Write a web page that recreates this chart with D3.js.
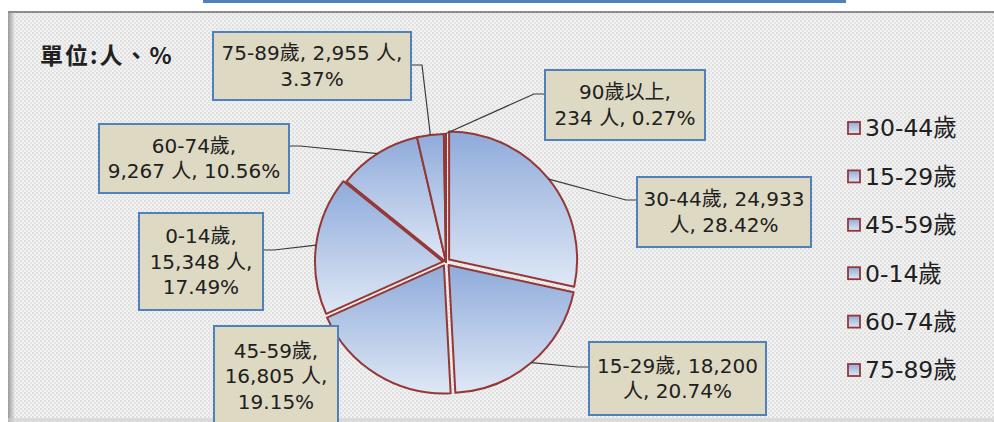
<!DOCTYPE html>
<html>
<head>
<meta charset="utf-8">
<script src="https://cdn.jsdelivr.net/npm/d3@7.9.0/dist/d3.min.js"></script>
<style>
  html, body { margin: 0; padding: 0; background: #fff; }
  svg { display: block; }
  text { fill: #202020; }
</style>
</head>
<body>
<svg id="chart" width="994" height="422"></svg>
<script>
// data
const categories = ['30-44歲', '15-29歲', '45-59歲', '0-14歲', '60-74歲', '75-89歲', '90歲以上'];
const counts     = [24933, 18200, 16805, 15348, 9267, 2955, 234];
const legendItems = ['30-44歲', '15-29歲', '45-59歲', '0-14歲', '60-74歲', '75-89歲'];
const unitLabel  = '單位:人、%';

const W = 994, H = 422;
const svg = d3.select('#chart');
const defs = svg.append('defs');

// dotted texture of the plot area
const pat = defs.append('pattern')
  .attr('id', 'dots').attr('width', 4).attr('height', 4)
  .attr('patternUnits', 'userSpaceOnUse');
pat.append('rect').attr('width', 4).attr('height', 4).attr('fill', '#f2f2f2');
pat.append('circle').attr('cx', 1).attr('cy', 1).attr('r', 0.9).attr('fill', '#d6d6d6');
pat.append('circle').attr('cx', 3).attr('cy', 3).attr('r', 0.9).attr('fill', '#dedede');

const shade = defs.append('linearGradient').attr('id', 'leftShade')
  .attr('x1', 0).attr('x2', 1).attr('y1', 0).attr('y2', 0);
shade.append('stop').attr('offset', 0).attr('stop-color', '#9a9a9a');
shade.append('stop').attr('offset', 1).attr('stop-color', '#9a9a9a').attr('stop-opacity', 0);

const blue = defs.append('linearGradient').attr('id', 'sliceFill')
  .attr('x1', 0).attr('x2', 0).attr('y1', 0).attr('y2', 1);
blue.append('stop').attr('offset', 0).attr('stop-color', '#8fabdb');
blue.append('stop').attr('offset', 1).attr('stop-color', '#dfe8f5');

// frame
svg.append('rect').attr('x', 203).attr('y', 0).attr('width', 643).attr('height', 3)
  .attr('fill', '#4f81bd');
svg.append('rect').attr('x', 8).attr('y', 11).attr('width', W - 8).attr('height', H - 11)
  .attr('fill', 'url(#dots)');
svg.append('rect').attr('x', 8).attr('y', 11).attr('width', 7).attr('height', H - 11)
  .attr('fill', 'url(#leftShade)');
svg.append('rect').attr('x', 8).attr('y', 11).attr('width', W - 8).attr('height', 2)
  .attr('fill', '#8c8c8c');
svg.append('rect').attr('x', 8).attr('y', H - 4).attr('width', W - 8).attr('height', 4)
  .attr('fill', '#d0d0d0').attr('opacity', 0.6);

// unit
svg.append('text')
  .attr('x', 40).attr('y', 64)
  .attr('font-family', '"Noto Sans CJK TC", sans-serif')
  .attr('font-weight', 'bold').attr('font-size', 23)
  .attr('letter-spacing', 2)
  .text(unitLabel);

// pie
const cx = 446, cy = 262, R = 128;
const total = d3.sum(counts);
const rows = categories.map((c, i) => ({ cat: c, value: counts[i], pct: counts[i] / total * 100 }));
const explode = { '30-44歲': 4, '15-29歲': 4, '45-59歲': 4, '0-14歲': 3 };

const pie = d3.pie().sort(null).value(d => d.value);
const arc = d3.arc().innerRadius(0).outerRadius(R);
const slices = pie(rows);

const offset = d => {
  const e = explode[d.data.cat] || 0;
  const m = (d.startAngle + d.endAngle) / 2;
  return [e * Math.sin(m), -e * Math.cos(m)];
};

svg.append('g').attr('transform', `translate(${cx},${cy})`)
  .selectAll('path')
  .data(slices)
  .join('path')
    .attr('transform', d => `translate(${offset(d)})`)
    .attr('d', arc)
    .attr('fill', 'url(#sliceFill)')
    .attr('stroke', '#953735')
    .attr('stroke-width', 2)
    .attr('stroke-linejoin', 'round');

// data labels (placement as in the original, by hand)
const labelBox = {
  '30-44歲':  { x: 637, y: 177, w: 174, h: 70,  groups: [2, 2],    side: 'left',  ly: 200 },
  '15-29歲':  { x: 589, y: 342, w: 177, h: 73,  groups: [2, 2],    side: 'left',  ly: 367 },
  '45-59歲':  { x: 214, y: 326, w: 124, h: 100, groups: [1, 2, 1], side: null },
  '0-14歲':   { x: 139, y: 213, w: 124, h: 97,  groups: [1, 2, 1], side: 'right', ly: 250 },
  '60-74歲':  { x: 99,  y: 124, w: 190, h: 69,  groups: [1, 3],    side: 'right', ly: 146 },
  '75-89歲':  { x: 213, y: 32,  w: 198, h: 68,  groups: [3, 1],    side: 'right', ly: 65 },
  '90歲以上': { x: 545, y: 70,  w: 160, h: 70,  groups: [1, 3],    side: 'left',  ly: 94 }
};

const fmt = d3.format(',');
const leaders = svg.append('g');
const labels = svg.append('g')
  .attr('font-family', '"DejaVu Sans", "Noto Sans CJK TC", sans-serif')
  .attr('font-size', 20);

slices.forEach(d => {
  const b = labelBox[d.data.cat];
  const m = (d.startAngle + d.endAngle) / 2;
  const [ox, oy] = offset(d);
  const px = cx + ox + R * Math.sin(m), py = cy + oy - R * Math.cos(m);

  if (b.side) {
    const bx = b.side === 'left' ? b.x : b.x + b.w;
    const kx = b.side === 'left' ? bx - 11 : bx + 11;
    leaders.append('polyline')
      .attr('points', [[bx, b.ly], [kx, b.ly], [px, py]].join(' '))
      .attr('fill', 'none').attr('stroke', '#3a3a3a').attr('stroke-width', 1.2);
  }

  labels.append('rect')
    .attr('x', b.x).attr('y', b.y).attr('width', b.w).attr('height', b.h)
    .attr('fill', '#ddd9c3').attr('stroke', '#4f81bd').attr('stroke-width', 2);

  const words = [d.data.cat + ',', fmt(d.data.value), '人,', d.data.pct.toFixed(2) + '%'];
  const lines = [];
  let k = 0;
  b.groups.forEach(n => { lines.push(words.slice(k, k + n).join(' ')); k += n; });

  const lh = 25.5;
  const y0 = b.y + b.h / 2 - (lines.length - 1) * lh / 2;
  labels.append('text')
    .attr('text-anchor', 'middle')
    .selectAll('tspan')
    .data(lines)
    .join('tspan')
      .attr('x', b.x + b.w / 2)
      .attr('y', (_, i) => y0 + i * lh)
      .attr('dy', '0.35em')
      .text(t => t);
});

// legend
const ly = d3.scalePoint().domain(legendItems).range([128, 370]);
const leg = svg.append('g')
  .attr('font-family', '"DejaVu Sans", "Noto Sans CJK TC", sans-serif')
  .attr('font-size', 23.5);
const item = leg.selectAll('g').data(legendItems).join('g')
  .attr('transform', d => `translate(848,${ly(d)})`);
item.append('rect')
  .attr('x', 0).attr('y', -6).attr('width', 12).attr('height', 12)
  .attr('fill', 'url(#sliceFill)').attr('stroke', '#953735').attr('stroke-width', 1.8);
item.append('text')
  .attr('x', 17).attr('dy', '0.36em')
  .text(d => d);
</script>
</body>
</html>
